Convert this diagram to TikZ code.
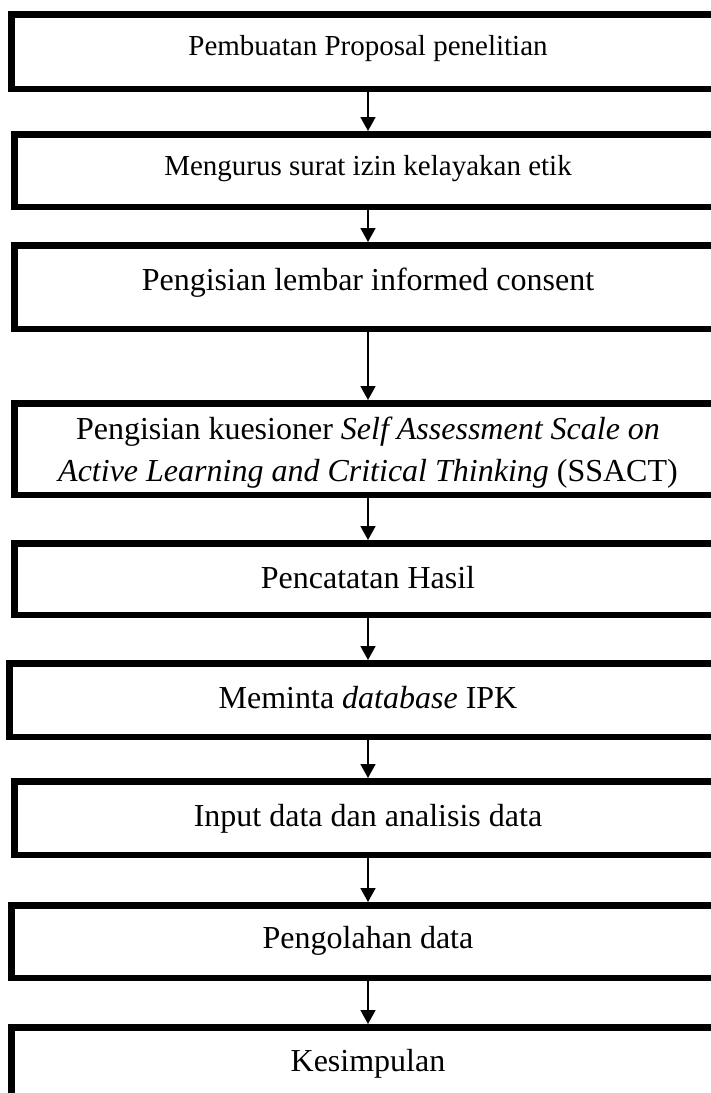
\documentclass[tikz,border=0pt]{standalone}
\usepackage{fontspec}
\setmainfont{Liberation Serif}
\usetikzlibrary{arrows.meta}
\begin{document}
\begin{tikzpicture}[x=1pt,y=-1pt,
  flowbox/.style={draw=black, line width=6.5pt, fill=none, anchor=north west, inner sep=0pt},
  smalltext/.style={anchor=base, inner sep=0pt, font=\fontsize{29}{35}\selectfont},
  bigtext/.style={anchor=base, inner sep=0pt, font=\fontsize{32}{38}\selectfont},
  arr/.style={line width=1.6pt, -{Triangle[length=14pt,width=15pt]}}]
\useasboundingbox (0,0) rectangle (711,1093);
\clip (0,0) rectangle (711,1093);
\fill[white] (0,0) rectangle (711,1093);
\coordinate (ax) at (368,0);
% boxes: outer left, top; size = outer - line width
\node[flowbox, minimum width=715.5pt, minimum height=74.5pt] (b1) at (8,11) {};
\node[flowbox, minimum width=712.5pt, minimum height=72.5pt] (b2) at (11,131) {};
\node[flowbox, minimum width=712.5pt, minimum height=83.5pt] (b3) at (11,242) {};
\node[flowbox, minimum width=712.5pt, minimum height=91.5pt] (b4) at (11,400) {};
\node[flowbox, minimum width=712.5pt, minimum height=71.5pt] (b5) at (11,540) {};
\node[flowbox, minimum width=717.5pt, minimum height=73.5pt] (b6) at (6,660) {};
\node[flowbox, minimum width=712.5pt, minimum height=73.5pt] (b7) at (11,778) {};
\node[flowbox, minimum width=715.5pt, minimum height=72.5pt] (b8) at (8,902) {};
\node[flowbox, minimum width=715.5pt, minimum height=120pt] (b9) at (8,1024) {};
% texts
\node[smalltext] (t1) at (368,55) {Pembuatan Proposal penelitian};
\node[smalltext] (t2) at (368,175) {Mengurus surat izin kelayakan etik};
\node[bigtext] (t3) at (368,290) {Pengisian lembar informed consent};
\node[bigtext] (t4a) at (368,439) {Pengisian kuesioner \textit{Self Assessment Scale on}};
\node[bigtext] (t4b) at (368,481) {\textit{Active Learning and Critical Thinking} (SSACT)};
\node[bigtext] (t5) at (368,588) {Pencatatan Hasil};
\node[bigtext] (t6) at (368,708) {Meminta \textit{database} IPK};
\node[bigtext] (t7) at (368,826) {Input data dan analisis data};
\node[bigtext] (t8) at (368,948) {Pengolahan data};
\node[bigtext] (t9) at (368,1071) {Kesimpulan};
% arrows
\draw[arr] (b1.south -| ax) -- (b2.north -| ax);
\draw[arr] (b2.south -| ax) -- (b3.north -| ax);
\draw[arr] (b3.south -| ax) -- (b4.north -| ax);
\draw[arr] (b4.south -| ax) -- (b5.north -| ax);
\draw[arr] (b5.south -| ax) -- (b6.north -| ax);
\draw[arr] (b6.south -| ax) -- (b7.north -| ax);
\draw[arr] (b7.south -| ax) -- (b8.north -| ax);
\draw[arr] (b8.south -| ax) -- (b9.north -| ax);
\end{tikzpicture}
\end{document}
